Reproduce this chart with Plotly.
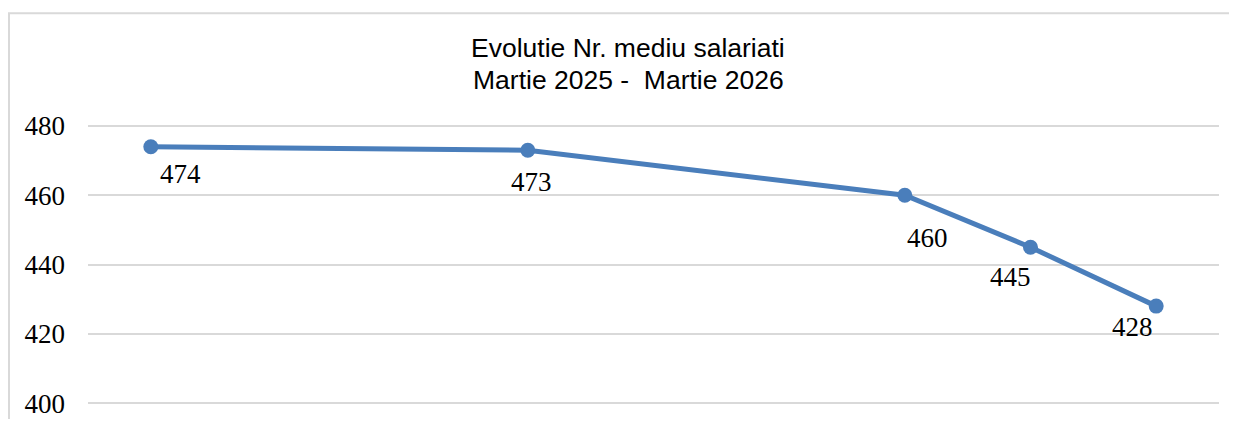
import plotly.graph_objects as go

# Data
x_pos = [0, 3, 6, 7, 8]          # category slot (9 slots on the axis)
values = [474, 473, 460, 445, 428]
y_ticks = [400, 420, 440, 460, 480]
title_lines = ["Evolutie Nr. mediu salariati", "Martie 2025 -  Martie 2026"]

# label offsets in px (dx, dy downward)
label_dx = [30, 4, 23, -20, -24]
label_dy = [27, 32, 43, 30, 21]

# the page body has an 8px margin; figure is sized to fit the window
OFF = 8
W, H = 1237 - 2 * OFF, 427 - 2 * OFF
PX_PER_UNIT = 3.5               # 20 units = 70 px in the reference
Y_TOP_PX, Y_BOT_PX = 124, 418   # plot area edges (screen px)
y_lo = 400 - (Y_BOT_PX - 406) / PX_PER_UNIT
y_hi = 480 + (126 - Y_TOP_PX) / PX_PER_UNIT

L = 88 - OFF
R = W - (1219 - OFF)
T = Y_TOP_PX - OFF
B = H - (Y_BOT_PX - OFF)
pw, ph = W - L - R, H - T - B

def px_x(px):
    return (px - OFF - L) / pw

def px_y(py):
    return (H - B - (py - OFF)) / ph

fig = go.Figure()
fig.add_trace(go.Scatter(
    x=x_pos, y=values, mode="lines+markers",
    line=dict(color="#4A7EBB", width=5),
    marker=dict(color="#4A7EBB", size=15),
    hoverinfo="skip", showlegend=False,
))

annotations = []
for x, v, dx, dy in zip(x_pos, values, label_dx, label_dy):
    annotations.append(dict(
        x=x, y=v, xref="x", yref="y", text=str(v), showarrow=False,
        xshift=dx, yshift=-dy, xanchor="center", yanchor="middle",
        font=dict(family="Liberation Serif", size=27, color="#000000"),
    ))

for line, cy in zip(title_lines, [47, 80]):
    annotations.append(dict(
        x=px_x(628), y=px_y(cy), xref="paper", yref="paper",
        text=line, showarrow=False,
        xanchor="center", yanchor="middle", align="center",
        font=dict(family="Liberation Sans", size=26.5, color="#000000"),
    ))

shapes = [dict(
    type="rect", xref="paper", yref="paper",
    x0=px_x(9), x1=px_x(1260), y0=px_y(450), y1=px_y(12),
    line=dict(color="#D9D9D9", width=2), fillcolor="rgba(0,0,0,0)",
    layer="below",
)]

fig.update_layout(
    width=W, height=H,
    margin=dict(l=L, r=R, t=T, b=B, pad=0),
    paper_bgcolor="white", plot_bgcolor="white",
    annotations=annotations, shapes=shapes,
    xaxis=dict(range=[-0.5, 8.5], showticklabels=False, showgrid=False,
               zeroline=False, showline=False, fixedrange=True),
    yaxis=dict(range=[y_lo, y_hi], tickvals=y_ticks, showgrid=True,
               gridcolor="#D9D9D9", gridwidth=2, zeroline=False,
               showline=False, ticks="", ticklabelstandoff=22,
               ticklabeloverflow="allow",
               tickfont=dict(family="Liberation Serif", size=27, color="#000000"),
               fixedrange=True),
)

fig.write_html("out.html")
